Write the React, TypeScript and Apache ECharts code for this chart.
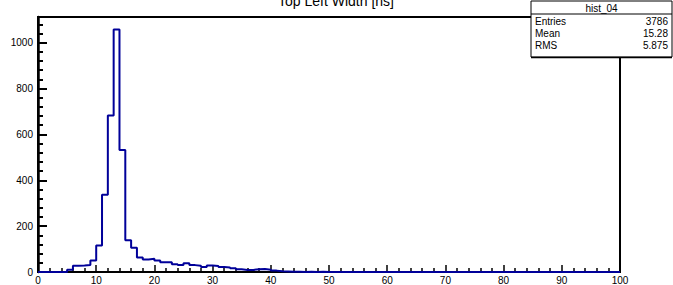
import React, { useEffect, useRef } from "react";
import * as echarts from "echarts";

// Histogram "hist_04": 100 bins of width 1 from 0 to 100 (counts per bin)
const binCounts: number[] = [
  0, 0, 0, 0, 0, 10, 27, 28, 30, 50,
  116, 337, 683, 1057, 532, 139, 106, 63, 55, 58,
  50, 42, 42, 34, 30, 38, 30, 27, 22, 28,
  26, 22, 20, 16, 12, 9, 9, 12, 13, 10,
  6, 3, 2, 1, 1, 0, 1, 0, 1, 0,
  0, 0, 0, 0, 0, 0, 0, 0, 0, 0,
  0, 0, 0, 0, 0, 0, 0, 0, 0, 0,
  0, 0, 0, 0, 0, 0, 0, 0, 0, 0,
  0, 0, 0, 0, 0, 0, 0, 0, 0, 0,
  0, 0, 0, 0, 0, 0, 0, 0, 0, 0,
];
const binLow = 0;
const binWidth = 1;
const xRange = [0, 100];
const yMax = 1112;
const titleText = "Top Left Width [ns]";
const statsName = "hist_04";
const statsLabels = ["Entries", "Mean", "RMS"];
const statsValues = ["3786", "15.28", "5.875"];

const FONT = "'Liberation Sans', Arial, sans-serif";

export default function App() {
  const ref = useRef<HTMLDivElement>(null);
  useEffect(() => {
    if (!ref.current) return;
    const chart = echarts.init(ref.current, undefined, { renderer: "svg" });
    const stepData: [number, number][] = binCounts.map((c, i) => [binLow + i * binWidth, c]);
    stepData.push([binLow + binCounts.length * binWidth, binCounts[binCounts.length - 1]]);

    const statsX = 531;
    const statsY = 1;
    const statsW = 141;
    const rowH = 12;
    const statsGraphics: any[] = [
      {
        type: "rect",
        shape: { x: statsX, y: statsY, width: statsW, height: 56 },
        style: { fill: "#fff", stroke: "#000", lineWidth: 1 },
        z: 100,
      },
      {
        type: "line",
        shape: { x1: statsX, y1: statsY + 56.5, x2: statsX + statsW, y2: statsY + 56.5 },
        style: { stroke: "#000", lineWidth: 1.5 },
        z: 101,
      },
      {
        type: "line",
        shape: { x1: statsX, y1: statsY + 13, x2: statsX + statsW, y2: statsY + 13 },
        style: { stroke: "#000", lineWidth: 1 },
        z: 101,
      },
      {
        type: "text",
        x: statsX + statsW / 2,
        y: statsY + 7,
        style: { text: statsName, font: `10px ${FONT}`, fill: "#000", align: "center", verticalAlign: "middle" },
        z: 102,
      },
    ];
    statsLabels.forEach((lab, i) => {
      const cy = statsY + 20 + i * rowH;
      statsGraphics.push({
        type: "text",
        x: statsX + 4,
        y: cy,
        style: { text: lab, font: `10px ${FONT}`, fill: "#000", align: "left", verticalAlign: "middle" },
        z: 102,
      });
      statsGraphics.push({
        type: "text",
        x: statsX + statsW - 4,
        y: cy,
        style: { text: statsValues[i], font: `10px ${FONT}`, fill: "#000", align: "right", verticalAlign: "middle" },
        z: 102,
      });
    });

    chart.setOption({
      animation: false,
      backgroundColor: "#fff",
      grid: {
        left: 38,
        right: 53,
        top: 17,
        bottom: 10.5,
        show: true,
        borderColor: "#000",
        borderWidth: 2,
        backgroundColor: "transparent",
      },
      xAxis: [
        {
          type: "value",
          min: xRange[0],
          max: xRange[1],
          interval: 10,
          axisLine: { show: true, onZero: false, lineStyle: { color: "#000", width: 2 } },
          axisTick: { show: true, inside: true, length: 7, lineStyle: { color: "#000", width: 1.5 } },
          minorTick: { show: true, splitNumber: 5, length: 4, lineStyle: { color: "#000", width: 1.5 } },
          splitLine: { show: false },
          axisLabel: {
            show: true,
            margin: 3,
            color: "#000",
            fontSize: 10,
            fontFamily: FONT,
            formatter: (v: number) => String(v),
          },
        },
      ],
      yAxis: [
        {
          type: "value",
          min: 0,
          max: yMax,
          interval: 200,
          axisLine: { show: true, onZero: false, lineStyle: { color: "#000", width: 2.5 } },
          axisTick: { show: true, inside: true, length: 9, lineStyle: { color: "#000", width: 2 } },
          splitLine: { show: false },
          axisLabel: {
            show: true,
            margin: 5,
            color: "#000",
            fontSize: 10,
            fontFamily: FONT,
            showMaxLabel: false,
            formatter: (v: number) => String(v),
          },
        },
        {
          type: "value",
          position: "left",
          min: 0,
          max: yMax,
          interval: 40,
          axisLine: { show: false },
          axisTick: { show: true, inside: true, length: 5, lineStyle: { color: "#000", width: 2 } },
          splitLine: { show: false },
          axisLabel: { show: false },
        },
      ],
      series: [
        {
          type: "line",
          step: "end",
          data: stepData,
          showSymbol: false,
          symbol: "none",
          clip: true,
          lineStyle: { color: "#000099", width: 2 },
          z: 5,
        },
      ],
      graphic: [
        {
          type: "text",
          x: 336,
          y: -6,
          style: { text: titleText, font: `14px ${FONT}`, fill: "#000", align: "center", verticalAlign: "top" },
          z: 100,
        },
        ...statsGraphics,
      ],
    });
    return () => chart.dispose();
  }, []);
  return (
    <div
      ref={ref}
      style={{ position: "absolute", left: 0, top: 0, width: 673, height: 285, background: "#fff" }}
    />
  );
}
